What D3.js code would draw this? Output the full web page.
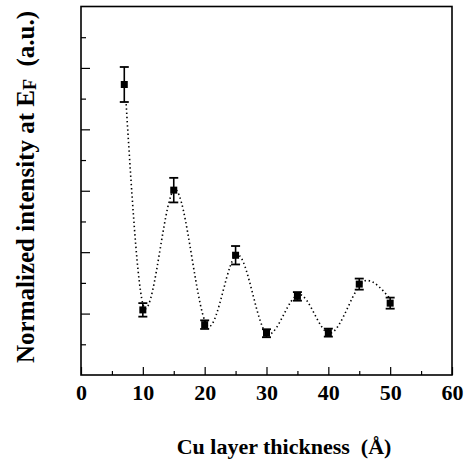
<!DOCTYPE html>
<html>
<head>
<meta charset="utf-8">
<script src="https://cdn.jsdelivr.net/npm/d3@7"></script>
<style>
  body { margin: 0; background: #fff; }
  text { font-family: "Liberation Serif", "Times New Roman", serif; font-weight: bold; fill: #000; }
</style>
</head>
<body>
<svg id="chart" width="467" height="459"></svg>
<script>
// measured points (thickness in Å, intensity in a.u. of the frame's 6 major divisions)
const thickness = [7, 10, 15, 20, 25, 30, 35, 40, 45, 50];
const intensity = [4.73, 1.06, 3.01, 0.82, 1.95, 0.68, 1.28, 0.69, 1.48, 1.17];
const errors = [0.285, 0.11, 0.2, 0.07, 0.15, 0.065, 0.07, 0.065, 0.09, 0.09];

// dotted guide curve
const fitX = [7.3, 10.4, 15.2, 20.7, 25.3, 30.3, 35.3, 40.2, 46.2, 50];
const fitY = [4.41, 1.08, 3.02, 0.79, 1.96, 0.66, 1.31, 0.68, 1.54, 1.24];

const xTicks = [0, 10, 20, 30, 40, 50, 60];
const xMinor = [5, 15, 25, 35, 45, 55];
const yTicks = [1, 2, 3, 4, 5];
const yMinor = [0.5, 1.5, 2.5, 3.5, 4.5, 5.5];

const svg = d3.select("#chart");
const plotLeft = 81, plotRight = 452, plotTop = 6.5, plotBottom = 375;

const x = d3.scaleLinear().domain([0, 60]).range([plotLeft, plotRight]);
const y = d3.scaleLinear().domain([0, 6]).range([plotBottom, plotTop]);

// frame
svg.append("rect")
    .attr("x", plotLeft).attr("y", plotTop)
    .attr("width", plotRight - plotLeft).attr("height", plotBottom - plotTop)
    .attr("fill", "none").attr("stroke", "#000").attr("stroke-width", 1.6);

// x axis, ticks pointing inward
const xAxis = svg.append("g")
    .attr("transform", `translate(0,${plotBottom})`)
    .call(d3.axisBottom(x).tickValues(xTicks).tickSizeInner(-8).tickSizeOuter(0).tickPadding(9));
xAxis.select(".domain").remove();
xAxis.selectAll("line").attr("stroke-width", 1.2);
xAxis.selectAll("text")
    .attr("font-size", 22)
    .attr("font-family", "Liberation Serif, Times New Roman, serif")
    .attr("font-weight", "bold");

svg.append("g")
    .attr("transform", `translate(0,${plotBottom})`)
    .call(d3.axisBottom(x).tickValues(xMinor).tickSizeInner(-4).tickSizeOuter(0).tickFormat(""))
    .call(g => g.select(".domain").remove())
    .selectAll("line").attr("stroke-width", 1.2);

// y axis, no labels
svg.append("g")
    .attr("transform", `translate(${plotLeft},0)`)
    .call(d3.axisLeft(y).tickValues(yTicks).tickSizeInner(-9).tickSizeOuter(0).tickFormat(""))
    .call(g => g.select(".domain").remove())
    .selectAll("line").attr("stroke-width", 1.2);

svg.append("g")
    .attr("transform", `translate(${plotLeft},0)`)
    .call(d3.axisLeft(y).tickValues(yMinor).tickSizeInner(-5).tickSizeOuter(0).tickFormat(""))
    .call(g => g.select(".domain").remove())
    .selectAll("line").attr("stroke-width", 1.2);

// dotted curve
const fit = fitX.map((d, i) => ({ x: d, y: fitY[i] }));
svg.append("path")
    .datum(fit)
    .attr("fill", "none")
    .attr("stroke", "#000")
    .attr("stroke-width", 1.6)
    .attr("stroke-dasharray", "1.4,2.8")
    .attr("d", d3.line().x(d => x(d.x)).y(d => y(d.y)).curve(d3.curveMonotoneX));

// error bars + markers
const pts = thickness.map((d, i) => ({ x: d, y: intensity[i], e: errors[i] }));
const pt = svg.append("g").selectAll("g").data(pts).enter().append("g");

pt.append("line")
    .attr("x1", d => x(d.x)).attr("x2", d => x(d.x))
    .attr("y1", d => y(d.y - d.e)).attr("y2", d => y(d.y + d.e))
    .attr("stroke", "#000").attr("stroke-width", 1.6);

pt.selectAll(".cap")
    .data(d => [[d.x, d.y - d.e], [d.x, d.y + d.e]])
    .enter().append("line")
    .attr("x1", d => x(d[0]) - 4.5).attr("x2", d => x(d[0]) + 4.5)
    .attr("y1", d => y(d[1])).attr("y2", d => y(d[1]))
    .attr("stroke", "#000").attr("stroke-width", 1.8);

pt.append("rect")
    .attr("x", d => x(d.x) - 3.5).attr("y", d => y(d.y) - 3.5)
    .attr("width", 7).attr("height", 7)
    .attr("fill", "#000");

// axis titles
svg.append("text")
    .attr("x", 284).attr("y", 454)
    .attr("text-anchor", "middle")
    .attr("font-size", 22)
    .attr("xml:space", "preserve")
    .text("Cu layer thickness  (Å)");

const yt = svg.append("text")
    .attr("transform", "translate(34,187) rotate(-90)")
    .attr("text-anchor", "middle")
    .attr("font-size", 25)
    .attr("xml:space", "preserve");
yt.append("tspan").text("Normalized intensity at E");
yt.append("tspan").attr("font-size", 18).attr("dy", 2).text("F");
yt.append("tspan").attr("dy", -2).text("  (a.u.)");
</script>
</body>
</html>
